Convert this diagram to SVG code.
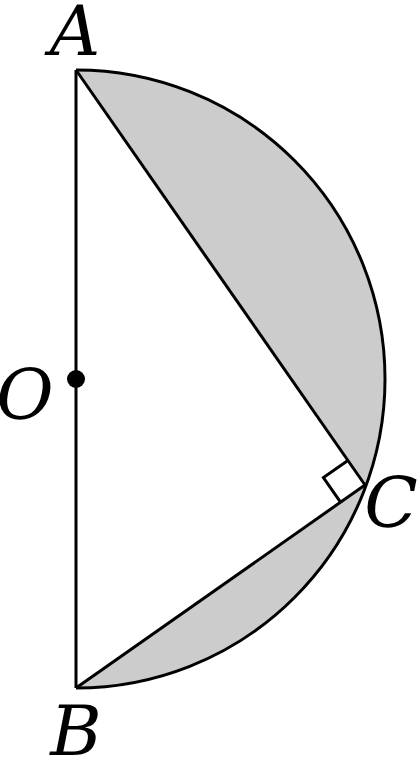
<svg xmlns="http://www.w3.org/2000/svg" width="418" height="759" viewBox="0 0 418 759">
<style>
.l{fill:none;stroke:#000;stroke-width:3;stroke-linejoin:miter}
.s{fill:#cccccc;stroke:none}
</style>
<rect width="418" height="759" fill="#fff"/>
<g id="shading">
<path class="s" d="M76,70 A309,309 0 0 1 365,485 Z"/>
<path class="s" d="M365,485 A309,309 0 0 1 76,688 Z"/>
</g>
<g id="connectors">
<path class="l" d="M76,70 A309,309 0 0 1 76,688"/>
<line class="l" x1="76" y1="70" x2="76" y2="688"/>
<line class="l" x1="76" y1="70" x2="365" y2="485"/>
<line class="l" x1="365" y1="485" x2="76" y2="688"/>
<polyline class="l" points="347.9,460.4 323.4,477.6 340.5,502.2"/>
</g>
<g id="O"><circle cx="76" cy="379" r="9" fill="#000"/><text font-family="DejaVu Serif" font-style="italic" font-size="70" text-anchor="middle" x="25" y="419">O</text></g>
<g id="A"><text font-family="DejaVu Serif" font-style="italic" font-size="70" text-anchor="middle" x="75" y="55">A</text></g>
<g id="B"><text font-family="DejaVu Serif" font-style="italic" font-size="70" text-anchor="middle" x="76" y="755">B</text></g>
<g id="C"><text font-family="DejaVu Serif" font-style="italic" font-size="70" text-anchor="middle" x="391" y="527">C</text></g>
</svg>
